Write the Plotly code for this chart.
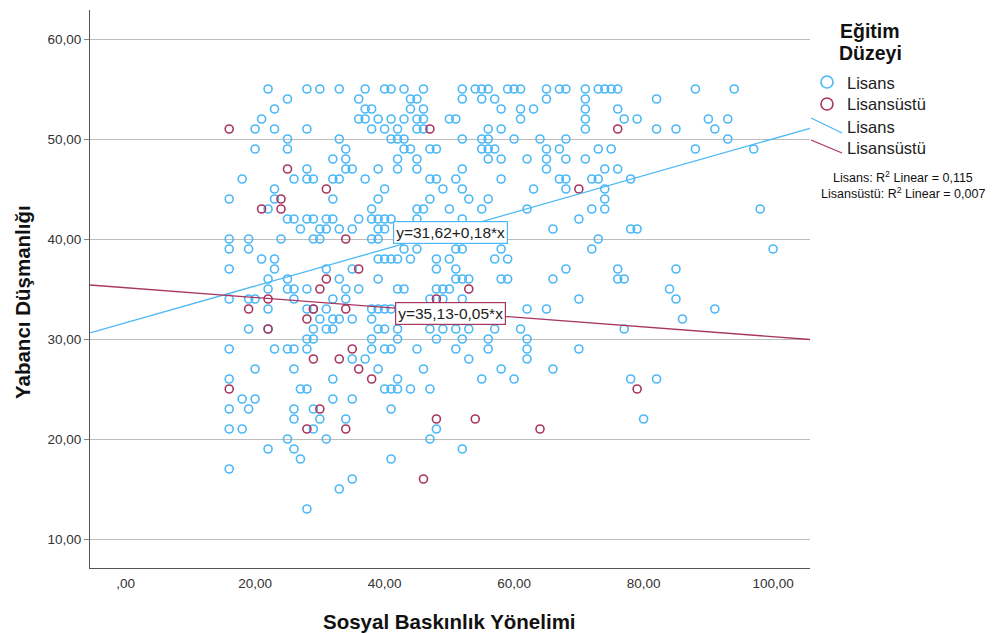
import plotly.graph_objects as go

# ---- data ----
# Lisans points, grouped by y value: {y: [x, ...]}
lisans_rows = {
    55: [22, 28, 30, 33, 37, 40, 41, 43, 46, 52, 54, 55, 56, 59, 60, 61, 65, 67, 68, 71, 73, 74, 75, 76, 88, 94],
    54: [25, 36, 44, 45, 52, 55, 57, 65, 71, 82],
    53: [23, 37, 38, 44, 46, 58, 61, 63, 71, 76],
    52: [21, 36, 37, 39, 41, 43, 45, 46, 50, 51, 61, 71, 77, 79, 90, 93],
    51: [20, 23, 28, 38, 40, 42, 45, 46, 56, 58, 71, 82, 85, 91],
    50: [25, 33, 41, 42, 43, 52, 55, 56, 60, 64, 68, 93],
    49: [20, 25, 34, 43, 44, 47, 48, 55, 56, 57, 65, 67, 73, 75, 88, 97],
    48: [32, 34, 42, 45, 56, 58, 62, 65, 68, 71],
    47: [28, 34, 35, 39, 42, 45, 52, 65, 74, 76],
    46: [18, 26, 28, 29, 32, 33, 37, 47, 48, 51, 58, 67, 68, 72, 73, 78],
    45: [23, 40, 49, 52, 63, 68, 74],
    44: [16, 23, 32, 39, 47, 53, 56, 74],
    43: [22, 38, 45, 46, 50, 55, 62, 72, 74, 98],
    42: [25, 26, 28, 29, 31, 32, 36, 38, 39, 40, 41, 45, 52, 70],
    41: [27, 30, 31, 33, 35, 39, 40, 66, 78, 79],
    40: [16, 19, 24, 29, 30, 38, 39, 73],
    39: [16, 19, 43, 45, 51, 52, 58, 72, 100],
    38: [21, 23, 39, 40, 41, 42, 44, 48, 50, 57, 59],
    37: [16, 23, 31, 35, 48, 51, 68, 76, 85],
    36: [22, 25, 33, 39, 51, 52, 53, 58, 59, 66, 76, 77],
    35: [22, 25, 26, 28, 34, 36, 42, 43, 48, 49, 50, 84],
    34: [16, 19, 20, 26, 32, 34, 47, 49, 52, 70, 85],
    33: [22, 28, 29, 31, 38, 39, 40, 41, 62, 65, 91],
    32: [30, 32, 33, 35, 38, 86],
    31: [19, 22, 29, 31, 32, 39, 40, 42, 47, 49, 51, 53, 57, 61, 77],
    30: [28, 29, 38, 42, 48, 52, 56, 62],
    29: [16, 23, 25, 26, 28, 38, 40, 41, 45, 51, 56, 62, 70],
    28: [35, 37, 53, 62],
    27: [20, 26, 39, 46, 58, 66],
    26: [16, 32, 42, 55, 60, 78, 82],
    25: [27, 28, 40, 41, 42, 44, 47],
    24: [18, 20, 32, 35],
    23: [16, 19, 26, 29, 41],
    22: [26, 30, 34, 80],
    21: [16, 18, 29, 48],
    20: [25, 31, 47],
    19: [22, 26, 52],
    18: [27, 41],
    17: [16],
    16: [35],
    15: [33],
    13: [28],
}
lisansustu_x = [16, 47, 76, 25, 31, 70, 24, 21, 24, 34, 36, 31, 30, 53, 22, 48, 19, 29,
                34, 28, 22, 35, 29, 33, 36, 38, 16, 79, 30, 48, 54, 28, 34, 64, 46]
lisansustu_y = [51, 51, 51, 47, 45, 45, 44, 43, 43, 40, 37, 36, 35, 35, 34, 34, 33, 33,
                33, 32, 31, 29, 28, 28, 27, 26, 25, 25, 23, 22, 22, 21, 21, 21, 16]

lisans_x = [x for y, xs in lisans_rows.items() for x in xs]
lisans_y = [y for y, xs in lisans_rows.items() for x in xs]

# linear fits (intercept, slope)
fit_lisans = (31.62, 0.184)
fit_lisansustu = (35.13, -0.049)
fit_labels = ["y=31,62+0,18*x", "y=35,13-0,05*x"]
r2_labels = ["Lisans: R<sup>2</sup> Linear = 0,115",
             "Lisansüstü: R<sup>2</sup> Linear = 0,007"]

x_ticks = [0, 20, 40, 60, 80, 100]
x_ticktext = [",00", "20,00", "40,00", "60,00", "80,00", "100,00"]
y_ticks = [10, 20, 30, 40, 50, 60]
y_ticktext = ["10,00", "20,00", "30,00", "40,00", "50,00", "60,00"]

BLUE = "#4cb8f6"
RED = "#a8365f"
FONT = "Liberation Sans, Arial, sans-serif"
TITLE_SIZE = 20.5

X_RANGE = [-5.5, 105.7]
Y_RANGE = [7.1, 62.9]

# plot area in pixels
W, H = 996, 634
L, R, T, B = 90, 810, 10, 568


def px(xp):
    return (xp - L) / (R - L)


def py(yp):
    return (B - yp) / (B - T)


def note(x, y, text, size, color="#222", **kw):
    fig.add_annotation(x=px(x), y=py(y), xref="paper", yref="paper", text=text,
                       showarrow=False, yanchor="middle",
                       font=dict(family=FONT, size=size, color=color), **kw)


fig = go.Figure()

fig.add_trace(go.Scatter(
    x=lisans_x, y=lisans_y, mode="markers", name="Lisans",
    marker=dict(symbol="circle-open", size=8, color=BLUE, line=dict(width=1.6)),
))
fig.add_trace(go.Scatter(
    x=lisansustu_x, y=lisansustu_y, mode="markers", name="Lisansüstü",
    marker=dict(symbol="circle-open", size=8, color=RED, line=dict(width=1.6)),
))

for (a, b), col, name in [(fit_lisans, BLUE, "Lisans"), (fit_lisansustu, RED, "Lisansüstü")]:
    fig.add_trace(go.Scatter(
        x=X_RANGE, y=[a + b * X_RANGE[0], a + b * X_RANGE[1]],
        mode="lines", line=dict(color=col, width=1.3), name=name,
    ))

# fit equation labels
for txt, col, yv in [(fit_labels[0], BLUE, 40.65), (fit_labels[1], RED, 32.55)]:
    fig.add_annotation(
        x=50.1, y=yv, xref="x", yref="y", text=txt, showarrow=False,
        xanchor="center", yanchor="middle",
        font=dict(family=FONT, size=15.5, color="#222"),
        bgcolor="white", bordercolor=col, borderwidth=1.2, borderpad=2,
    )

# legend (drawn by hand to mimic the SPSS layout)
note(870, 31, "<b>Eğitim</b>", 19.5, "#111", xanchor="center")
note(870, 53, "<b>Düzeyi</b>", 19.5, "#111", xanchor="center")
for yc, col in [(82, BLUE), (104, RED)]:
    fig.add_shape(type="circle", xref="paper", yref="paper",
                  x0=px(821), x1=px(833), y0=py(yc + 6), y1=py(yc - 6),
                  line=dict(color=col, width=1.6))
for (y0, y1), col in [((118, 133), BLUE), ((140, 153), RED)]:
    fig.add_shape(type="line", xref="paper", yref="paper",
                  x0=px(811), x1=px(842), y0=py(y0), y1=py(y1),
                  line=dict(color=col, width=1.3))
for txt, yc in [("Lisans", 83), ("Lisansüstü", 104.5), ("Lisans", 127), ("Lisansüstü", 148)]:
    note(845, yc, txt, 16.5, xanchor="left")
for txt, yc in [(r2_labels[0], 177), (r2_labels[1], 193)]:
    note(903, yc, txt, 12.5, "#111", xanchor="center")

# axis titles
note(449, 621, "<b>Sosyal Baskınlık Yönelimi</b>", TITLE_SIZE, "#111", xanchor="center")
note(22, 302, "<b>Yabancı Düşmanlığı</b>", TITLE_SIZE, "#111", xanchor="center", textangle=-90)

fig.update_layout(
    width=W, height=H,
    margin=dict(l=L, r=W - R, t=T, b=H - B),
    paper_bgcolor="white", plot_bgcolor="white",
    showlegend=False,
    font=dict(family=FONT),
    xaxis=dict(range=X_RANGE, tickvals=x_ticks, ticktext=x_ticktext, showgrid=False,
               zeroline=False, showline=True, linecolor="#555", linewidth=1,
               ticks="", ticklabelstandoff=3,
               tickfont=dict(family=FONT, size=13.5, color="#333")),
    yaxis=dict(range=Y_RANGE, tickvals=y_ticks, ticktext=y_ticktext, showgrid=True,
               gridcolor="#bdbdbd", gridwidth=1, zeroline=False, showline=True,
               linecolor="#555", linewidth=1, ticks="outside", ticklen=5,
               tickcolor="#888", tickfont=dict(family=FONT, size=13.5, color="#333")),
)

# page has a default 8px body margin; drop it so the figure sits at the window origin
fig.write_html("out.html", config={"displayModeBar": False},
               post_script="document.body.style.margin='0';")
